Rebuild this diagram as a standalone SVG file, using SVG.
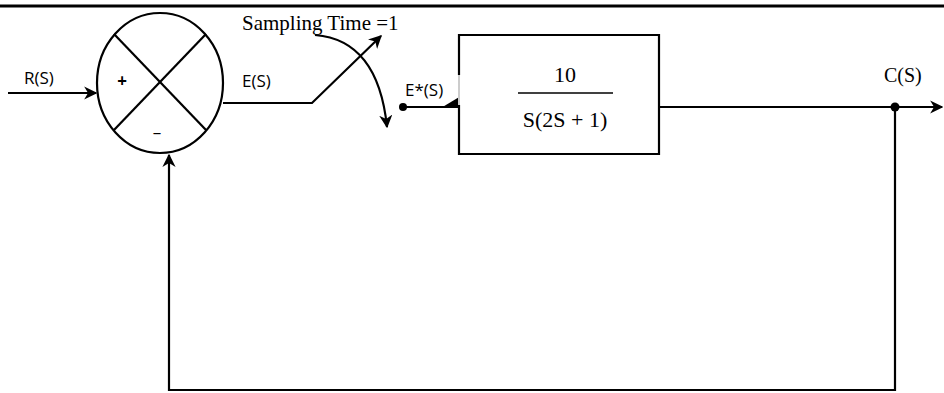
<svg xmlns="http://www.w3.org/2000/svg" width="944" height="393" viewBox="0 0 944 393">
<defs>
<style>
.ln{fill:none;stroke:#000;stroke-width:2.2}
.sans{font-family:"Open Sans","DejaVu Sans",sans-serif;font-size:17px;fill:#000}
.serif{font-family:"Liberation Serif","Times New Roman",serif;fill:#000}
</style>
<marker id="ah" viewBox="0 0 10 10" refX="9" refY="5" markerWidth="6" markerHeight="6" orient="auto" markerUnits="strokeWidth">
<path d="M0,0 L10,5 L0,10 L3,5 Z" fill="#000"/>
</marker>
<marker id="half" viewBox="0 0 10 10" refX="10" refY="10" markerWidth="7" markerHeight="7" orient="auto" markerUnits="strokeWidth">
<path d="M0,10 L10,10 L10,4 Z" fill="#000"/>
</marker>
</defs>
<rect width="944" height="393" fill="#fff"/>
<line x1="0" y1="6" x2="944" y2="6" stroke="#000" stroke-width="3"/>
<g id="summer">
<ellipse cx="160" cy="83" rx="63" ry="70" class="ln"/>
<line x1="114" y1="34" x2="206" y2="130" class="ln" stroke-width="1.8"/>
<line x1="206" y1="34" x2="114" y2="130" class="ln" stroke-width="1.8"/>
<text x="122" y="87" class="sans" font-size="22" font-weight="bold" text-anchor="middle">+</text>
<text x="157" y="138" class="sans" font-size="22" text-anchor="middle">–</text>
</g>
<g id="plant">
<path d="M459,75 L459,35 L659,35 L659,154 L459,154 L459,105" class="ln"/>
<line x1="459" y1="75" x2="459" y2="105" stroke="#999" stroke-width="1"/>
<text x="565" y="82" class="serif" font-size="22" text-anchor="middle">10</text>
<line x1="518" y1="93" x2="613" y2="93" stroke="#000" stroke-width="1.5"/>
<text x="565" y="127" class="serif" font-size="22" text-anchor="middle">S(2S + 1)</text>
</g>
<g id="sampler">
<text x="242" y="30" class="serif" font-size="21">Sampling Time =1</text>
<polyline points="223,103 312,103 381,36" class="ln" marker-end="url(#ah)"/>
<path d="M315,35 Q378,40 387,127" class="ln" marker-end="url(#ah)"/>
</g>
<g id="connectors">
<line x1="8" y1="93" x2="96" y2="93" class="ln" marker-end="url(#ah)"/>
<circle cx="403" cy="107" r="4" fill="#000"/>
<line x1="403" y1="107" x2="458" y2="107" class="ln" marker-end="url(#half)"/>
<line x1="659" y1="107" x2="942" y2="107" class="ln" marker-end="url(#ah)"/>
<circle cx="895" cy="107" r="4.5" fill="#000"/>
<polyline points="895,107 895,390 169,390 169,155" class="ln" stroke-width="3" marker-end="url(#ah)"/>
</g>
<g id="labels">
<text x="24" y="84" class="sans">R(S)</text>
<text x="242" y="87" class="sans">E(S)</text>
<text x="405" y="96" class="sans">E*(S)</text>
<text x="884" y="82" class="serif" font-size="20">C(S)</text>
</g>
</svg>
